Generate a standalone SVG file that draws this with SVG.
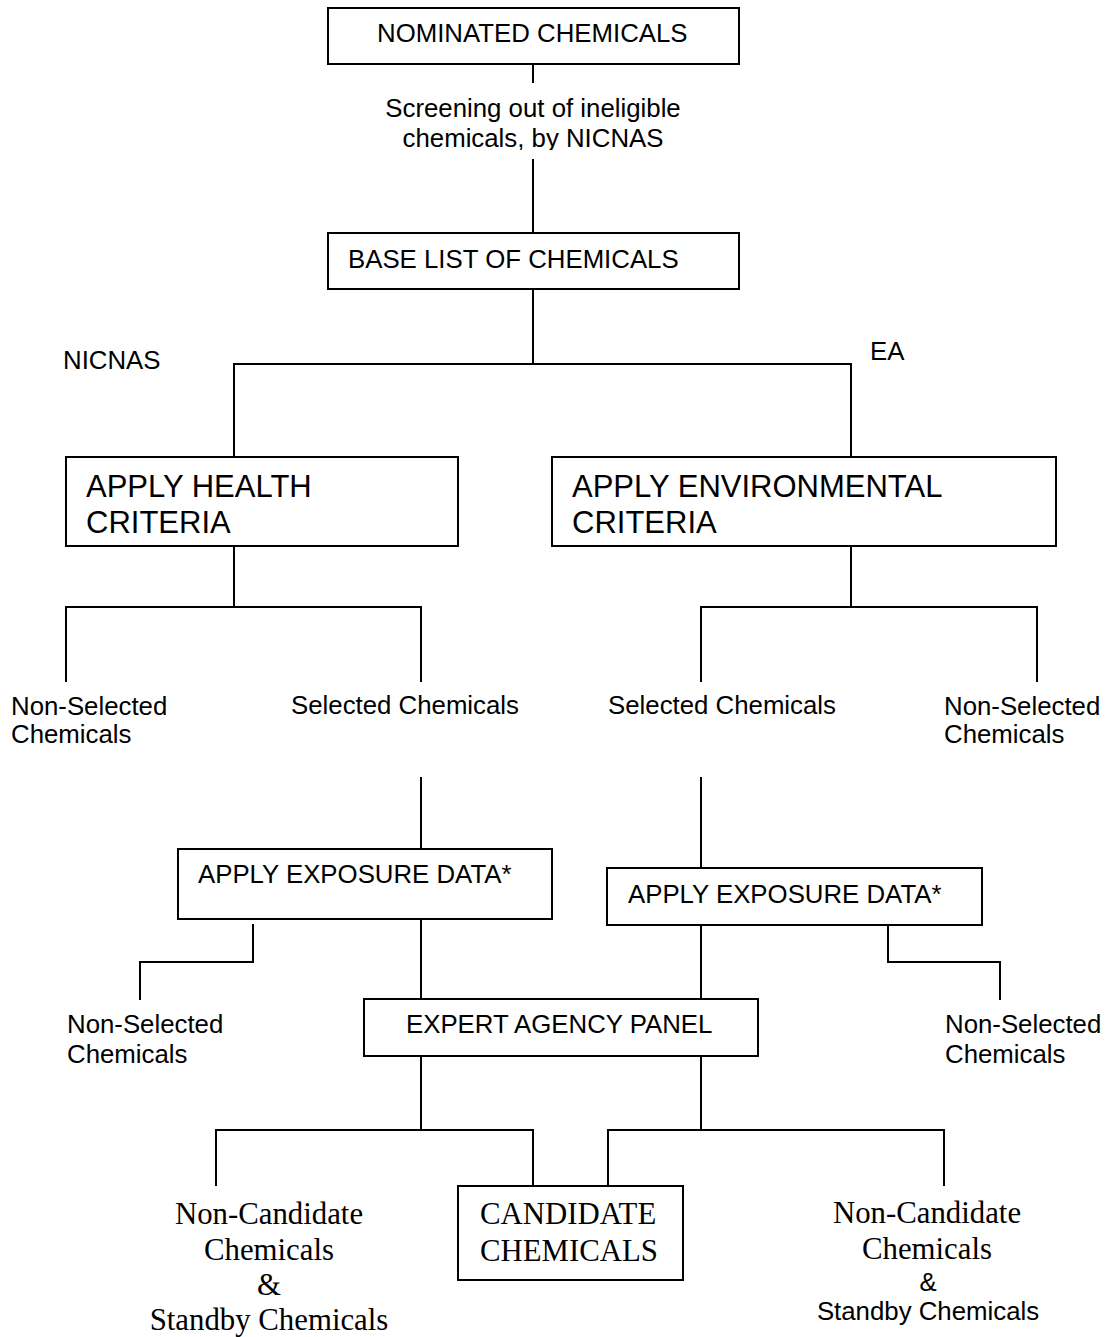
<svg xmlns="http://www.w3.org/2000/svg" width="1111" height="1337" viewBox="0 0 1111 1337">
  <defs>
    <style>
      .box { fill: #ffffff; stroke: #000000; stroke-width: 2; }
      .wire { fill: none; stroke: #000000; stroke-width: 2; }
      .sans { font-family: "Liberation Sans", Arial, sans-serif; font-size: 25.8px; fill: #000000; }
      .big { font-family: "Liberation Sans", Arial, sans-serif; font-size: 31px; fill: #000000; }
      .serif { font-family: "Liberation Serif", "Times New Roman", serif; font-size: 30.8px; fill: #000000; }
      .mid { text-anchor: middle; }
    </style>
    <clipPath id="screenClip">
      <rect x="300" y="85" width="470" height="65"/>
    </clipPath>
  </defs>
  <rect width="1111" height="1337" fill="#ffffff"/>

  <!-- connectors -->
  <g id="connectors" class="wire">
    <path d="M533,64 V83"/>
    <path d="M533,159 V233"/>
    <path d="M533,289 V364"/>
    <path d="M234,457 V364 H851 V457"/>
    <path d="M234,546 V607"/>
    <path d="M66,682 V607 H421 V682"/>
    <path d="M851,546 V607"/>
    <path d="M701,682 V607 H1037 V682"/>
    <path d="M421,777 V849"/>
    <path d="M701,777 V868"/>
    <path d="M253,924 V962 H140 V1000"/>
    <path d="M888,925 V962 H1000 V1000"/>
    <path d="M421,919 V999"/>
    <path d="M701,925 V999"/>
    <path d="M421,1056 V1130"/>
    <path d="M216,1186 V1130 H533 V1186"/>
    <path d="M701,1056 V1130"/>
    <path d="M608,1186 V1130 H944 V1186"/>
  </g>

  <g id="nominated">
    <rect class="box" x="328" y="8" width="411" height="56"/>
    <text class="sans" x="377" y="42">NOMINATED CHEMICALS</text>
  </g>

  <g id="screening" clip-path="url(#screenClip)">
    <text class="sans mid" x="533" y="117">Screening out of ineligible</text>
    <text class="sans mid" x="533" y="147">chemicals, by NICNAS</text>
  </g>

  <g id="base-list">
    <rect class="box" x="328" y="233" width="411" height="56"/>
    <text class="sans" x="348" y="268">BASE LIST OF CHEMICALS</text>
  </g>

  <g id="agency-nicnas">
    <text class="sans" x="63" y="369">NICNAS</text>
  </g>
  <g id="agency-ea">
    <text class="sans" x="870" y="360">EA</text>
  </g>

  <g id="health-criteria">
    <rect class="box" x="66" y="457" width="392" height="89"/>
    <text class="big" x="86" y="497">APPLY HEALTH</text>
    <text class="big" x="86" y="533">CRITERIA</text>
  </g>

  <g id="environmental-criteria">
    <rect class="box" x="552" y="457" width="504" height="89"/>
    <text class="big" x="572" y="497">APPLY ENVIRONMENTAL</text>
    <text class="big" x="572" y="533">CRITERIA</text>
  </g>

  <g id="health-non-selected">
    <text class="sans" x="11" y="715">Non-Selected</text>
    <text class="sans" x="11" y="743">Chemicals</text>
  </g>
  <g id="health-selected">
    <text class="sans" x="291" y="714">Selected Chemicals</text>
  </g>
  <g id="env-selected">
    <text class="sans" x="608" y="714">Selected Chemicals</text>
  </g>
  <g id="env-non-selected">
    <text class="sans" x="944" y="715">Non-Selected</text>
    <text class="sans" x="944" y="743">Chemicals</text>
  </g>

  <g id="health-exposure">
    <rect class="box" x="178" y="849" width="374" height="70"/>
    <text class="sans" x="198" y="883">APPLY EXPOSURE DATA*</text>
  </g>
  <g id="env-exposure">
    <rect class="box" x="607" y="868" width="375" height="57"/>
    <text class="sans" x="628" y="903">APPLY EXPOSURE DATA*</text>
  </g>

  <g id="health-exposure-non-selected">
    <text class="sans" x="67" y="1033">Non-Selected</text>
    <text class="sans" x="67" y="1063">Chemicals</text>
  </g>
  <g id="env-exposure-non-selected">
    <text class="sans" x="945" y="1033">Non-Selected</text>
    <text class="sans" x="945" y="1063">Chemicals</text>
  </g>

  <g id="expert-panel">
    <rect class="box" x="364" y="999" width="394" height="57"/>
    <text class="sans" x="406" y="1033">EXPERT AGENCY PANEL</text>
  </g>

  <g id="candidate">
    <rect class="box" x="458" y="1186" width="225" height="94"/>
    <text class="serif" x="480" y="1224">CANDIDATE</text>
    <text class="serif" x="480" y="1261">CHEMICALS</text>
  </g>

  <g id="non-candidate-left">
    <text class="serif mid" x="269" y="1224">Non-Candidate</text>
    <text class="serif mid" x="269" y="1260">Chemicals</text>
    <text class="serif mid" x="269" y="1295">&amp;</text>
    <text class="serif mid" x="269" y="1330">Standby Chemicals</text>
  </g>

  <g id="non-candidate-right">
    <text class="serif mid" x="927" y="1223">Non-Candidate</text>
    <text class="serif mid" x="927" y="1259">Chemicals</text>
    <text class="sans mid" x="928" y="1291">&amp;</text>
    <text class="sans mid" x="928" y="1320">Standby Chemicals</text>
  </g>
</svg>
